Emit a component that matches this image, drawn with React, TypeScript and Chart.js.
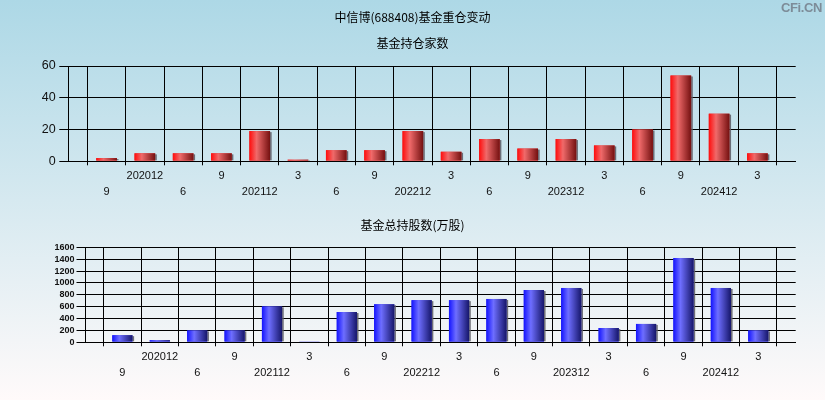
import React, { useEffect, useRef } from "react";
import { Chart, registerables } from "chart.js";

Chart.register(...registerables);

// ---- data ----
const categories = [
  "202009", "202012", "202106", "202109", "202112", "202203", "202206", "202209", "202212",
  "202303", "202306", "202309", "202312", "202403", "202406", "202409", "202412", "202503",
];
const tickLabels = [
  "9", "202012", "6", "9", "202112", "3", "6", "9", "202212",
  "3", "6", "9", "202312", "3", "6", "9", "202412", "3",
];
const fundCounts = [2, 5, 5, 5, 19, 1, 7, 7, 19, 6, 14, 8, 14, 10, 20, 54, 30, 5];
const totalShares = [120, 35, 200, 200, 605, 15, 510, 640, 710, 710, 730, 880, 915, 240, 310, 1420, 915, 200];
const mainTitle = "中信博(688408)基金重仓变动";
const countTitle = "基金持仓家数";
const sharesTitle = "基金总持股数(万股)";
const watermark = "CFi.CN";

const LATIN = '"Liberation Sans", Arial, sans-serif';
const CJK = '"Noto Sans CJK SC", "Liberation Sans", sans-serif';
const SIDE = 29.3;

function makeBarPlugin(light: string, mid: string, dark: string) {
  return {
    id: "gradBars",
    afterDatasetsDraw(chart: any) {
      const ctx = chart.ctx as CanvasRenderingContext2D;
      const meta = chart.getDatasetMeta(0);
      ctx.save();
      meta.data.forEach((el: any, i: number) => {
        const raw = chart.data.datasets[0].data[i];
        if (raw === null || raw === undefined) return;
        const p = el.getProps(["x", "y", "base", "width"], true);
        if (!isFinite(p.y) || !isFinite(p.x)) return;
        const left = p.x - p.width / 2;
        const right = p.x + p.width / 2;
        const top = Math.min(p.y, p.base);
        const bottom = Math.max(p.y, p.base) - 0.5;
        if (bottom - top <= 0) return;
        ctx.fillStyle = "rgba(95,95,105,0.9)";
        ctx.fillRect(right, top + 1, 1.6, bottom - top - 1);
        const g = ctx.createLinearGradient(left, 0, right, 0);
        g.addColorStop(0, light);
        g.addColorStop(0.35, mid);
        g.addColorStop(1, dark);
        ctx.fillStyle = g;
        ctx.fillRect(left, top, p.width, bottom - top);
      });
      ctx.restore();
    },
  };
}

function xTick(_v: any, index: number) {
  if (index === 0 || index > tickLabels.length) return "";
  const k = index - 1;
  const t = tickLabels[k];
  return k % 2 === 0 ? ["", t] : [t, ""];
}

function makeConfig(o: {
  values: number[];
  max: number;
  step: number;
  yWidth: number;
  xHeight: number;
  yTickLen: number;
  yPad: number;
  yFont: number;
  yWeight: string;
  xLine: number;
  title: any;
  subtitle: any;
  base: string;
  plugin: any;
}) {
  return {
    type: "bar" as const,
    data: {
      labels: ["", ...categories, ""],
      datasets: [
        {
          data: [null, ...o.values, null],
          backgroundColor: o.base,
          borderWidth: 0,
          categoryPercentage: 1,
          barPercentage: 0.54,
        },
      ],
    },
    options: {
      animation: false as const,
      responsive: false,
      devicePixelRatio: 1,
      layout: { padding: { left: SIDE, right: SIDE, top: 0, bottom: 0 } },
      plugins: {
        legend: { display: false },
        tooltip: { enabled: false },
        title: o.title,
        subtitle: o.subtitle,
      },
      scales: {
        x: {
          type: "category" as const,
          offset: false,
          grid: { color: "#000", lineWidth: 1, tickLength: 4, drawTicks: true },
          border: { color: "#000", width: 1 },
          ticks: {
            autoSkip: false,
            maxRotation: 0,
            minRotation: 0,
            padding: 2.4,
            color: "#111",
            font: { family: LATIN, size: 11, lineHeight: o.xLine + "px" },
            callback: xTick,
          },
          afterFit: (s: any) => {
            s.height = o.xHeight;
          },
        },
        y: {
          min: 0,
          max: o.max,
          grid: { color: "#000", lineWidth: 1, tickLength: o.yTickLen },
          border: { color: "#000", width: 1 },
          ticks: {
            stepSize: o.step,
            autoSkip: false,
            padding: o.yPad,
            color: "#111",
            font: { family: LATIN, size: o.yFont, weight: o.yWeight, lineHeight: 1 },
            callback: (v: any) => String(v),
          },
          afterFit: (s: any) => {
            s.width = o.yWidth;
          },
        },
      },
    },
    plugins: [o.plugin],
  };
}

export default function App() {
  const topRef = useRef<HTMLCanvasElement>(null);
  const botRef = useRef<HTMLCanvasElement>(null);

  useEffect(() => {
    const c1 = new Chart(
      topRef.current as HTMLCanvasElement,
      makeConfig({
        values: fundCounts,
        max: 60,
        step: 20,
        yWidth: 68.3 - SIDE,
        xHeight: 38.7,
        yTickLen: 9,
        yPad: 3.6,
        yFont: 12.5,
        yWeight: "normal",
        xLine: 16,
        title: {
          display: true,
          text: mainTitle,
          color: "#000",
          font: { family: CJK, size: 12, weight: "normal", lineHeight: 1.2 },
          padding: { top: 9.8, bottom: 0 },
        },
        subtitle: {
          display: true,
          text: countTitle,
          color: "#000",
          font: { family: CJK, size: 12, weight: "normal", lineHeight: 1.2 },
          padding: { top: 11.6, bottom: 15.8 },
        },
        base: "#e03030",
        plugin: makeBarPlugin("#ff0c0c", "#f06a6a", "#741010"),
      }) as any
    );
    const c2 = new Chart(
      botRef.current as HTMLCanvasElement,
      makeConfig({
        values: totalShares,
        max: 1600,
        step: 200,
        yWidth: 85 - SIDE,
        xHeight: 57.7,
        yTickLen: 8.5,
        yPad: 2,
        yFont: 9,
        yWeight: "bold",
        xLine: 16.5,
        title: {
          display: true,
          text: sharesTitle,
          color: "#000",
          font: { family: CJK, size: 12, weight: "normal", lineHeight: 1.2 },
          padding: { top: 17.8, bottom: 15.1 },
        },
        subtitle: { display: false },
        base: "#3030e0",
        plugin: makeBarPlugin("#1414ff", "#6e6eff", "#16166a"),
      }) as any
    );
    return () => {
      c1.destroy();
      c2.destroy();
    };
  }, []);

  return (
    <div
      style={{
        position: "absolute",
        left: 0,
        top: 0,
        width: 825,
        height: 400,
        overflow: "hidden",
        background: "linear-gradient(to bottom, #add8e6 0%, #fffafa 100%)",
      }}
    >
      <canvas
        ref={topRef}
        width={825}
        height={200}
        style={{ position: "absolute", left: 0, top: 0, width: 825, height: 200 }}
      />
      <canvas
        ref={botRef}
        width={825}
        height={200}
        style={{ position: "absolute", left: 0, top: 200, width: 825, height: 200 }}
      />
      <div
        style={{
          position: "absolute",
          right: 3,
          top: 0,
          font: 'bold 13px "Liberation Sans", Arial, sans-serif',
          color: "#7d8c98",
          letterSpacing: -0.4,
        }}
      >
        {watermark}
      </div>
    </div>
  );
}
